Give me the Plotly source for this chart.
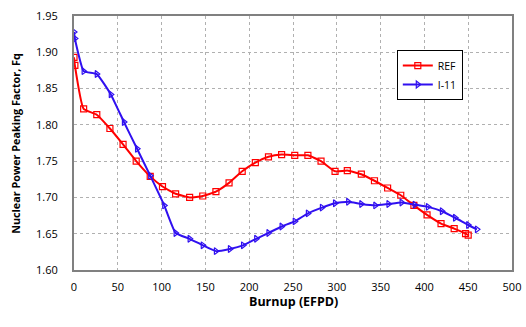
import plotly.graph_objects as go

ref_x = [0, 1, 11, 26, 41, 56, 71, 87, 101, 116, 132, 147, 162, 177, 192, 207, 222, 237, 252, 267, 282, 298, 312, 328, 343, 358, 373, 388, 403, 419, 434, 447, 450]
ref_y = [1.893, 1.882, 1.822, 1.814, 1.795, 1.773, 1.750, 1.729, 1.715, 1.705, 1.700, 1.702, 1.708, 1.720, 1.736, 1.748, 1.756, 1.759, 1.758, 1.758, 1.750, 1.736, 1.737, 1.732, 1.723, 1.713, 1.703, 1.689, 1.676, 1.664, 1.657, 1.650, 1.648]

i11_x = [0, 1, 11, 26, 42, 57, 72, 87, 103, 116, 132, 147, 162, 178, 193, 208, 222, 237, 252, 267, 283, 298, 313, 328, 344, 359, 374, 389, 404, 420, 435, 450, 460]
i11_y = [1.928, 1.919, 1.874, 1.870, 1.842, 1.804, 1.767, 1.730, 1.689, 1.651, 1.643, 1.634, 1.626, 1.629, 1.634, 1.643, 1.651, 1.660, 1.667, 1.678, 1.686, 1.692, 1.694, 1.691, 1.689, 1.691, 1.693, 1.690, 1.687, 1.681, 1.672, 1.662, 1.656]

x_ticks = [0, 50, 100, 150, 200, 250, 300, 350, 400, 450, 500]
y_ticks = [1.60, 1.65, 1.70, 1.75, 1.80, 1.85, 1.90, 1.95]

font_fam = "Open Sans, Noto Sans, sans-serif"

fig = go.Figure()
fig.add_trace(go.Scatter(
    x=ref_x, y=ref_y, name="REF", mode="lines+markers",
    line=dict(color="#FF0000", width=2, shape="spline", smoothing=0.4),
    marker=dict(symbol="square-open", size=6, color="#FF0000", line=dict(width=1.2)),
))
fig.add_trace(go.Scatter(
    x=i11_x, y=i11_y, name="I-11", mode="lines+markers",
    line=dict(color="#3010F0", width=2, shape="spline", smoothing=0.4),
    marker=dict(symbol="triangle-right-open", size=6, color="#3010F0", line=dict(width=1.2)),
))

fig.update_layout(
    width=526, height=327,
    margin=dict(l=74, r=14, t=16, b=57),
    paper_bgcolor="white", plot_bgcolor="white",
    font=dict(family=font_fam, size=11, color="#000000"),
    showlegend=True,
    legend=dict(
        x=0.737, y=0.866, xanchor="left", yanchor="top",
        bordercolor="#000000", borderwidth=1, bgcolor="white",
        font=dict(size=10.5), tracegroupgap=0, itemwidth=30,
    ),
    xaxis=dict(
        range=[0, 500], tickvals=x_ticks, ticktext=[str(v) for v in x_ticks],
        showgrid=True, gridcolor="#B0B0B0", griddash="dot", gridwidth=1,
        showline=True, linecolor="#808080", linewidth=2, mirror=True,
        ticks="", zeroline=False, ticklabelstandoff=6, automargin=False,
    ),
    yaxis=dict(
        range=[1.60, 1.95], tickvals=y_ticks, ticktext=["%.2f" % v for v in y_ticks],
        showgrid=True, gridcolor="#B0B0B0", griddash="dot", gridwidth=1,
        showline=True, linecolor="#808080", linewidth=2, mirror=True,
        ticks="", zeroline=False, ticklabelstandoff=12, automargin=False,
    ),
    annotations=[
        dict(text="<b>Burnup (EFPD)</b>", xref="paper", yref="paper", x=0.5, y=-0.125,
             xanchor="center", yanchor="middle", showarrow=False, font=dict(size=12.5)),
        dict(text="<b>Nuclear Power Peaking Factor, Fq</b>", xref="paper", yref="paper",
             x=-0.135, y=0.5, xanchor="center", yanchor="middle", textangle=-90,
             showarrow=False, font=dict(size=10.8)),
    ],
)

fig.write_html("out.html", config={"displayModeBar": False},
               post_script="document.body.style.margin='0';")
